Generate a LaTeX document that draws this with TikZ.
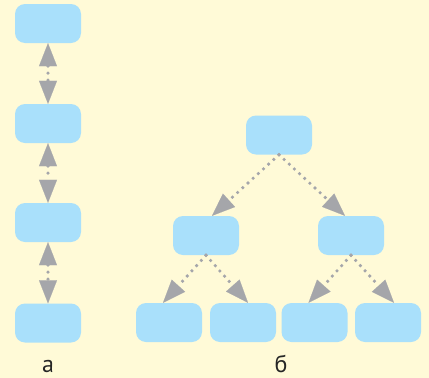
\documentclass[tikz,border=0pt]{standalone}
\usepackage{fontspec}
\setmainfont{PT Sans}
\usetikzlibrary{arrows.meta}
\definecolor{paper}{HTML}{FFFAD7}
\definecolor{sky}{HTML}{A9E0FB}
\definecolor{ash}{HTML}{A5A6AA}

\begin{document}
\begin{tikzpicture}[x=1pt, y=-1pt,
  box/.style={fill=sky, rounded corners=10pt, minimum width=66pt, minimum height=39pt, inner sep=0pt},
  tip/.tip={Triangle[length=23pt, width=18pt, line width=0.1pt]},
  link/.style={ash, line width=3.6pt, line cap=round, dash pattern=on 0pt off 7pt, -tip},
  dlink/.style={link, tip-tip},
  caption/.style={font=\fontsize{24}{24}\selectfont, text=black!85, inner sep=0pt}]

  % Background and page size
  \fill[paper] (0,0) rectangle (429,378);
  \useasboundingbox (0,0) rectangle (429,378);

  % === a: chain of four boxes ===
  \foreach \i/\y in {1/23.5, 2/123.5, 3/222.5, 4/323} {
    \node[box] (c\i) at (48,\y) {};
  }
  \foreach \i [count=\j from 2] in {1,2,3} {
    \draw[dlink] (c\i.south) -- (c\j.north);
  }

  % === b: binary tree ===
  \node[box] (t) at (279,135) {};
  \node[box] (tl) at (206,235.5) {};
  \node[box] (tr) at (351,235.5) {};
  \foreach \n/\x in {tll/169, tlr/243, trl/314.5, trr/388} {
    \node[box] (\n) at (\x,322.5) {};
  }

  % Tree links
  \draw[link] (t.south) -- ([xshift=6pt]tl.north);
  \draw[link] (t.south) -- ([xshift=-6pt]tr.north);
  \draw[link] (tl.south) -- ([xshift=-6pt]tll.north);
  \draw[link] (tl.south) -- ([xshift=5pt]tlr.north);
  \draw[link] (tr.south) -- ([xshift=-6pt]trl.north);
  \draw[link] (tr.south) -- ([xshift=6pt]trr.north);

  % Captions
  \node[caption] (capa) at (48,366) {а};
  \node[caption] (capb) at (281,364) {б};

\end{tikzpicture}
\end{document}
